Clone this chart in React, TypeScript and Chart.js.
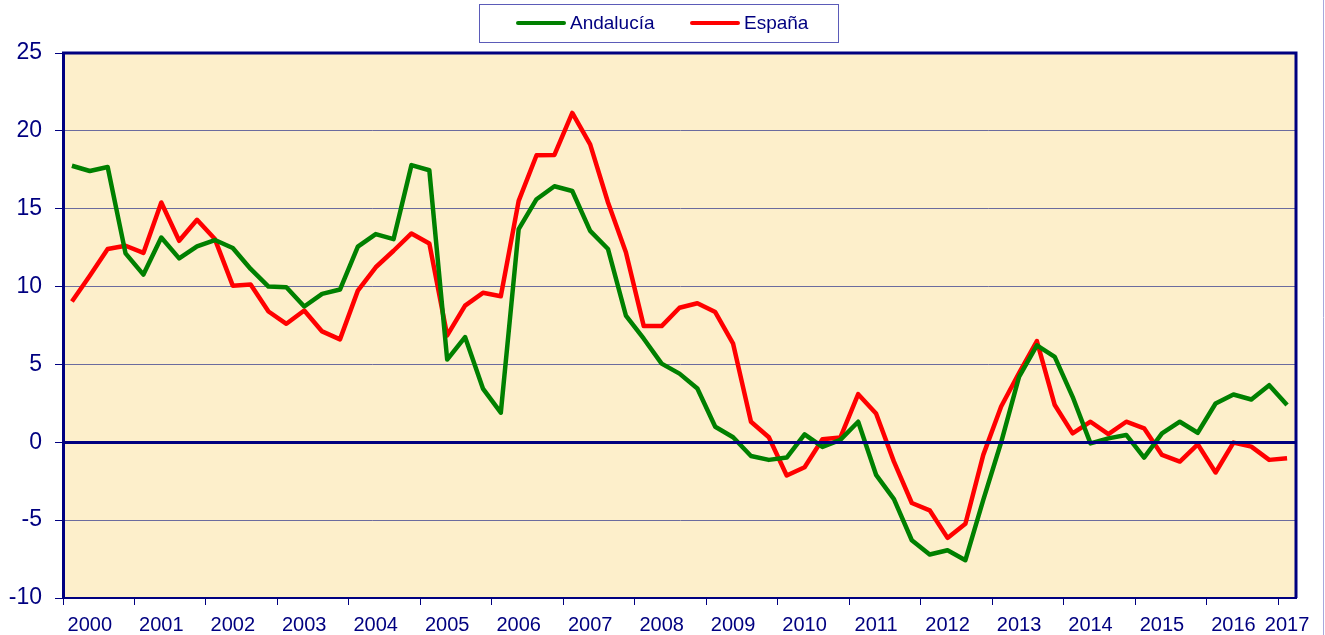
import React, { useEffect, useRef } from "react";
import { Chart, registerables } from "chart.js";

Chart.register(...registerables);

const years = [
  "2000", "2001", "2002", "2003", "2004", "2005", "2006", "2007", "2008",
  "2009", "2010", "2011", "2012", "2013", "2014", "2015", "2016", "2017",
];
const quarters = ["I", "II", "III", "IV"];

const andalucia = [
  17.76, 17.42, 17.68, 12.13, 10.77, 13.15, 11.81, 12.58, 12.99, 12.48,
  11.13, 10.0, 9.96, 8.72, 9.53, 9.81, 12.56, 13.37, 13.05, 17.8,
  17.47, 5.31, 6.76, 3.45, 1.9, 13.69, 15.61, 16.44, 16.14, 13.58,
  12.41, 8.14, 6.65, 5.05, 4.41, 3.45, 1.0, 0.32, -0.88, -1.13,
  -0.98, 0.51, -0.3, 0.15, 1.32, -2.09, -3.65, -6.29, -7.21, -6.93,
  -7.57, -3.7, 0.0, 4.2, 6.23, 5.48, 2.92, -0.07, 0.25, 0.47,
  -0.98, 0.57, 1.32, 0.61, 2.49, 3.07, 2.75, 3.67, 2.39,
];

const espana = [
  9.04, 10.7, 12.41, 12.62, 12.16, 15.4, 12.94, 14.29, 13.05, 10.06,
  10.13, 8.4, 7.61, 8.46, 7.12, 6.61, 9.74, 11.24, 12.3, 13.41,
  12.77, 6.86, 8.78, 9.6, 9.38, 15.5, 18.43, 18.45, 21.15, 19.13,
  15.4, 12.2, 7.46, 7.46, 8.64, 8.93, 8.36, 6.33, 1.32, 0.32,
  -2.13, -1.6, 0.19, 0.3, 3.09, 1.85, -1.24, -3.9, -4.37, -6.14,
  -5.23, -0.81, 2.3, 4.45, 6.5, 2.39, 0.57, 1.32, 0.53, 1.32,
  0.9, -0.81, -1.24, -0.13, -1.94, -0.02, -0.28, -1.13, -1.02,
];

const seriesNames = ["Andalucía", "España"];
const seriesColors = ["#008000", "#FF0000"];

const categories: string[] = years.flatMap((y, k) =>
  (k < years.length - 1 ? quarters : quarters.slice(0, 1)).map((q) => `${q} ${y}`)
);
const tickLabels: string[] = categories.map((c, i) => {
  const [q, y] = c.split(" ");
  const isLast = i === categories.length - 1;
  if (q === "II" || (isLast && q === "I")) return y;
  return "";
});

const NAVY = "#000080";
const FONT = "'Liberation Sans', Arial, sans-serif";

const decorPlugin = {
  id: "decor",
  beforeDraw(chart: any) {
    const { ctx, chartArea: a } = chart;
    ctx.save();
    ctx.fillStyle = "#FDEFCB";
    ctx.fillRect(a.left, a.top, a.right - a.left, a.bottom - a.top);
    ctx.restore();
  },
  afterDatasetsDraw(chart: any) {
    const { ctx, chartArea: a } = chart;
    const yScale = chart.scales.y;
    ctx.save();
    const y0 = Math.round(yScale.getPixelForValue(0)) + 0.5;
    ctx.strokeStyle = NAVY;
    ctx.lineWidth = 3;
    ctx.beginPath();
    ctx.moveTo(a.left, y0);
    ctx.lineTo(a.right, y0);
    ctx.stroke();
    ctx.lineWidth = 3;
    ctx.beginPath();
    ctx.moveTo(a.left - 1, a.top);
    ctx.lineTo(a.right, a.top);
    ctx.lineTo(a.right, a.bottom);
    ctx.stroke();
    ctx.strokeStyle = "#A8A8DC";
    ctx.lineWidth = 1;
    ctx.beginPath();
    ctx.moveTo(1323.5, 0);
    ctx.lineTo(1323.5, chart.height);
    ctx.stroke();
    ctx.strokeStyle = "#5B5BB8";
    ctx.lineWidth = 1;
    ctx.strokeRect(479.5, 4.5, 359, 38);
    const items = chart.data.datasets.map((d: any) => ({
      label: d.label,
      color: d.borderColor,
    }));
    const xs = [516, 690];
    ctx.font = `19px ${FONT}`;
    ctx.textBaseline = "middle";
    ctx.textAlign = "left";
    items.forEach((it: any, i: number) => {
      const x = xs[i];
      ctx.strokeStyle = it.color;
      ctx.lineWidth = 4;
      ctx.lineCap = "round";
      ctx.beginPath();
      ctx.moveTo(x + 2, 23);
      ctx.lineTo(x + 48, 23);
      ctx.stroke();
      ctx.fillStyle = NAVY;
      ctx.fillText(it.label, x + 54, 24);
    });
    ctx.restore();
  },
};

export default function App() {
  const ref = useRef<HTMLCanvasElement | null>(null);

  useEffect(() => {
    if (!ref.current) return;
    const chart = new Chart(ref.current, {
      type: "line",
      data: {
        labels: categories,
        datasets: [
          {
            label: seriesNames[0],
            data: andalucia,
            borderColor: seriesColors[0],
            backgroundColor: seriesColors[0],
            borderWidth: 4.5,
            pointRadius: 0,
            tension: 0,
            borderJoinStyle: "round",
          },
          {
            label: seriesNames[1],
            data: espana,
            borderColor: seriesColors[1],
            backgroundColor: seriesColors[1],
            borderWidth: 4.5,
            pointRadius: 0,
            tension: 0,
            borderJoinStyle: "round",
          },
        ],
      },
      options: {
        responsive: false,
        animation: false,
        layout: { padding: { top: 53, right: 29, left: 0, bottom: 0 } },
        plugins: {
          legend: { display: false },
          tooltip: { enabled: false },
          title: { display: false },
        },
        scales: {
          x: {
            type: "category",
            offset: true,
            afterFit: (s: any) => {
              s.height = 37;
            },
            grid: {
              offset: true,
              drawOnChartArea: false,
              drawTicks: true,
              tickLength: 7,
              color: (c: any) => (c.index % 4 === 0 ? NAVY : "rgba(0,0,0,0)"),
              tickColor: (c: any) => (c.index % 4 === 0 ? NAVY : "rgba(0,0,0,0)"),
              lineWidth: 1,
            },
            border: { display: true, color: NAVY, width: 2 },
            ticks: {
              autoSkip: false,
              maxRotation: 0,
              minRotation: 0,
              padding: 8,
              color: NAVY,
              font: { family: FONT, size: 20 },
              callback: (_v: any, i: number) => tickLabels[i],
            },
          },
          y: {
            min: -10,
            max: 25,
            afterFit: (s: any) => {
              s.width = 63;
            },
            grid: {
              color: (c: any) =>
                c.tick && c.tick.value === 0 ? "rgba(0,0,0,0)" : "#6B6B9E",
              tickColor: NAVY,
              tickLength: 8,
              lineWidth: 1,
            },
            border: { display: true, color: NAVY, width: 3 },
            ticks: {
              stepSize: 5,
              padding: 13,
              color: NAVY,
              font: { family: FONT, size: 23 },
            },
          },
        },
      },
      plugins: [decorPlugin],
    });
    return () => chart.destroy();
  }, []);

  return (
    <div style={{ position: "fixed", left: 0, top: 0, width: 1325, height: 635, background: "#fff" }}>
      <canvas ref={ref} width={1325} height={635} style={{ display: "block" }} />
    </div>
  );
}
